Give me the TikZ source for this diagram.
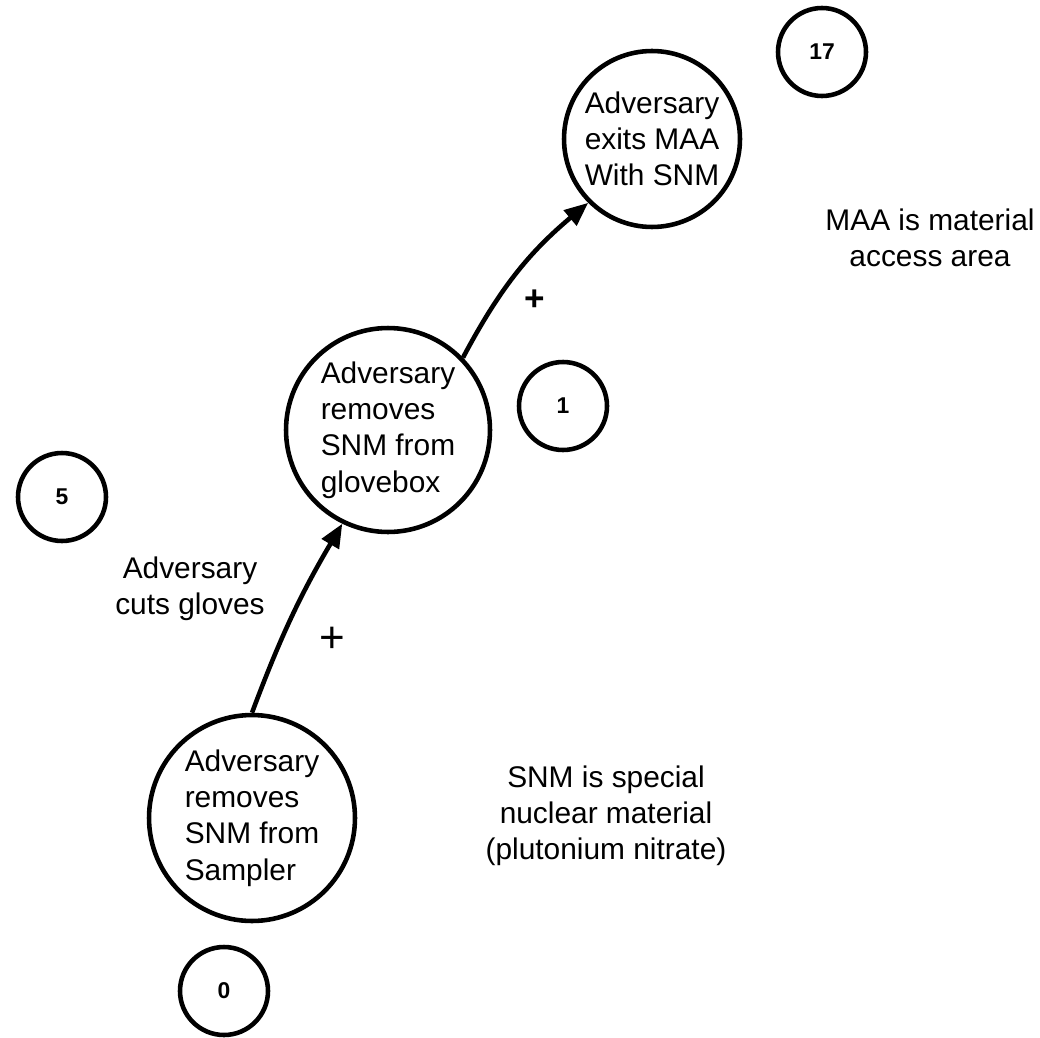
\documentclass[tikz,border=0pt]{standalone}
\usepackage{fontspec}
\setmainfont{Liberation Sans}
\usetikzlibrary{arrows.meta}
\begin{document}
\begin{tikzpicture}[x=0.02cm,y=-0.02cm]
   \tikzstyle{event} = [draw, circle, line width=2.6pt, align=left, inner sep=0pt, font=\fontsize{17}{20.6}\selectfont]
   \tikzstyle{numbox} = [draw, circle, line width=2.6pt, minimum size=1.76cm, inner sep=0pt, font=\fontsize{13}{15}\selectfont\bfseries]
   \tikzstyle{note} = [align=center, font=\fontsize{17}{20.6}\selectfont]
   \tikzstyle{line} = [draw, line width=2.6pt, -{Triangle[length=13.5pt,width=11pt]}]
   \useasboundingbox (0,0) rectangle (1040,1037);

   \node[event, minimum size=4.12cm] (sampler) at (252,818) {Adversary\\removes\\SNM from\\Sampler};
   \node[event, minimum size=4.08cm] (glovebox) at (388,430) {Adversary\\removes\\SNM from\\glovebox};
   \node[event, minimum size=3.52cm] (exit) at (652,139) {Adversary\\exits MAA\\With SNM};

   \node[numbox] (n0) at (224,991) {0};
   \node[numbox] (n5) at (62,497) {5};
   \node[numbox] (n1) at (563,406) {1};
   \node[numbox] (n17) at (822,52) {17};

   \node[note] (cuts) at (190,589) {Adversary\\cuts gloves};
   \node[note] (maa) at (930,238) {MAA is material\\access area};
   \node[note] (snm) at (606,816) {SNM is special\\nuclear material\\(plutonium nitrate)};

   \node[font=\fontsize{25}{25}\selectfont] (plusa) at (332,640) {+};
   \node[font=\fontsize{20}{20}\selectfont\bfseries] (plusb) at (535,300) {+};

   \path (sampler.90) edge [line, bend left=5] (glovebox.244);
   \path (glovebox.44) edge [line, bend left=11] (exit.225);

\end{tikzpicture}
\end{document}
